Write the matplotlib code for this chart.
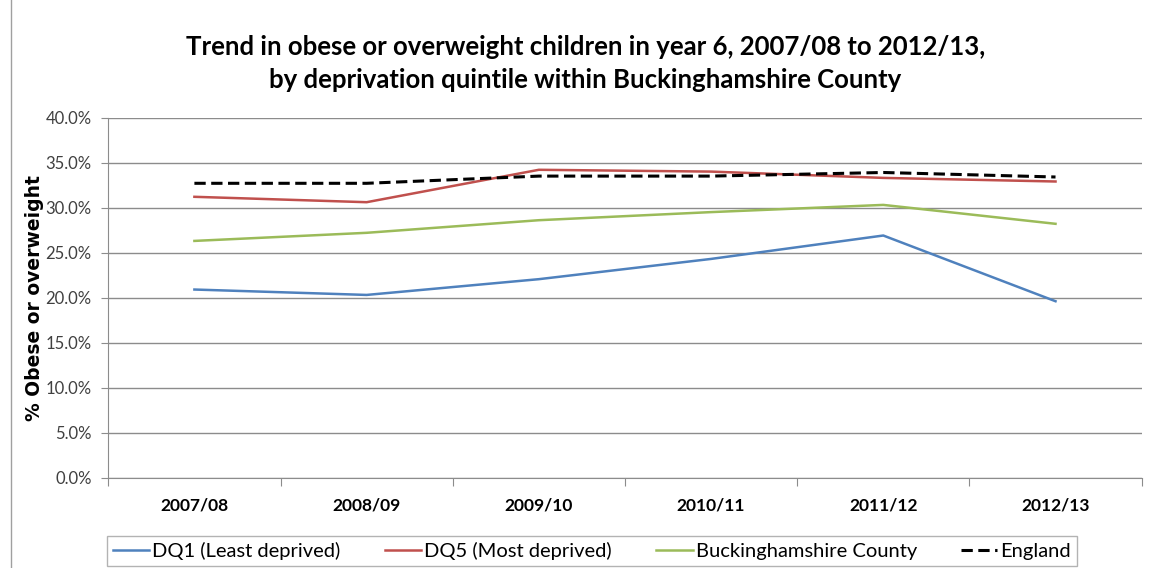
import matplotlib
matplotlib.use("Agg")
import matplotlib.pyplot as plt
from matplotlib.lines import Line2D
from matplotlib.ticker import FixedLocator, PercentFormatter

# data (percent)
years = ["2007/08", "2008/09", "2009/10", "2010/11", "2011/12", "2012/13"]
dq1 = [20.9, 20.3, 22.05, 24.3, 26.9, 19.6]
dq5 = [31.2, 30.6, 34.2, 34.0, 33.3, 32.9]
bucks = [26.3, 27.2, 28.6, 29.5, 30.3, 28.2]
england = [32.7, 32.7, 33.5, 33.5, 33.9, 33.4]

plt.rcParams['font.family'] = ['Lato', 'DejaVu Sans']

fig = plt.figure(figsize=(11.52, 5.68), dpi=100)
ax = fig.add_axes([0.094, 0.159, 0.897, 0.634])

x = list(range(len(years)))
ax.plot(x, dq1, color='#4F81BD', lw=1.8, label='DQ1 (Least deprived)')
ax.plot(x, dq5, color='#C0504D', lw=1.8, label='DQ5 (Most deprived)')
ax.plot(x, bucks, color='#9BBB59', lw=1.8, label='Buckinghamshire County')
ax.plot(x, england, color='black', lw=2.2, ls=(0, (3.7, 1.8)), label='England')

ax.set_xlim(-0.5, len(years) - 0.5)
ax.set_ylim(0, 40)
ax.set_yticks(range(0, 41, 5))
ax.yaxis.set_major_formatter(PercentFormatter(decimals=1))
ax.grid(axis='y', color='#8c8c8c', lw=1)
ax.set_axisbelow(True)

# category boundaries as major ticks, labels in the middle
ax.xaxis.set_major_locator(FixedLocator([i - 0.5 for i in range(len(years) + 1)]))
ax.set_xticklabels([])
ax.set_xticks(x, minor=True)
ax.set_xticklabels(years, minor=True, fontsize=12.5, fontweight='bold')
ax.tick_params(axis='x', which='minor', length=0, pad=14)
ax.tick_params(axis='x', which='major', length=6, color='#8c8c8c')
ax.tick_params(axis='y', length=5, color='#8c8c8c', labelsize=12, labelcolor='#404040', pad=7)

for side in ['top', 'right']:
    ax.spines[side].set_visible(False)
ax.spines['left'].set_color('#8c8c8c')
ax.spines['bottom'].set_color('#8c8c8c')

ax.set_ylabel('% Obese or overweight', fontsize=13.5, fontweight='bold', family=['DejaVu Sans'])
ax.yaxis.set_label_coords(-0.062, 0.5)

fig.text(0.508, 0.888, 'Trend in obese or overweight children in year 6, 2007/08 to 2012/13,\nby deprivation quintile within Buckinghamshire County',
         ha='center', va='center', fontsize=18.5, fontweight='bold', linespacing=1.45)

leg = fig.legend(loc='lower left', bbox_to_anchor=(0.093, 0.0035, 0.842, 0.0687), mode='expand',
                 ncol=4, fontsize=14.5, frameon=True, fancybox=False, handlelength=1.8,
                 handletextpad=0.15, borderaxespad=0, borderpad=0.3, columnspacing=1.4)
leg.get_frame().set_edgecolor('#a0a0a0')
leg.get_frame().set_linewidth(1)

# thin frame line on the left edge, as in the reference
fig.add_artist(Line2D([0.0095, 0.0095], [0, 1], transform=fig.transFigure, color='#a0a0a0', lw=1))

fig.savefig('out.png', dpi=100)
